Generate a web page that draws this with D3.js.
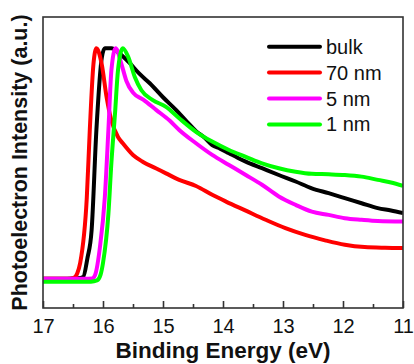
<!DOCTYPE html>
<html>
<head>
<meta charset="utf-8">
<script src="https://d3js.org/d3.v7.min.js"></script>
<style>
	body{margin:0;background:#fff;}
	text{font-family:Arial,"Liberation Sans",sans-serif;fill:#111;}
</style>
</head>
<body>
<div class="canvas"></div>
<script>

// spectra, energy in eV (descending), intensity normalised to peak
var bulkE = [17,16.6,16.42,16.33,16.26,16.19,16.11,16.02,15.97,15.86,15.72,15.55,15.39,15.22,15.0,14.78,14.6,14.45,14.3,14.18,14.05,13.9,13.75,13.62,13.35,13.07,12.79,12.52,12.24,11.97,11.69,11.42,11.2,11.0];
var bulkV = [0.012,0.012,0.014,0.02,0.1,0.22,0.65,0.96,1.0,1.0,0.977,0.935,0.89,0.85,0.79,0.735,0.685,0.645,0.615,0.585,0.57,0.55,0.53,0.514,0.486,0.457,0.429,0.40,0.379,0.358,0.336,0.315,0.305,0.294];

var nm70E = [17,16.6,16.49,16.43,16.38,16.27,16.22,16.16,16.11,16.02,15.94,15.86,15.75,15.67,15.5,15.34,15.12,14.95,14.73,14.45,14.18,13.95,13.62,13.29,12.96,12.63,12.3,11.97,11.64,11.3,11.0];
var nm70V = [0.012,0.012,0.016,0.035,0.08,0.36,0.65,0.93,1.0,0.93,0.79,0.69,0.62,0.593,0.543,0.514,0.486,0.464,0.436,0.41,0.372,0.343,0.304,0.265,0.229,0.20,0.177,0.158,0.148,0.145,0.144];

var nm5E = [17,16.3,16.18,16.13,16.05,15.97,15.91,15.86,15.79,15.69,15.61,15.5,15.33,15.11,14.89,14.73,14.45,14.18,13.9,13.62,13.35,13.07,12.79,12.52,12.24,11.97,11.69,11.42,11.0];
var nm5V = [0.012,0.012,0.014,0.03,0.15,0.36,0.65,0.906,1.0,0.93,0.86,0.81,0.78,0.735,0.69,0.65,0.593,0.543,0.50,0.457,0.415,0.365,0.329,0.30,0.286,0.272,0.265,0.26,0.258];

var nm1E = [17,16.2,16.1,16.04,16.0,15.91,15.86,15.80,15.75,15.67,15.58,15.47,15.36,15.17,14.95,14.73,14.45,14.18,13.9,13.62,13.35,13.07,12.79,12.52,12.24,11.97,11.69,11.42,11.2,11.0];
var nm1V = [0,0,0.005,0.03,0.08,0.29,0.51,0.72,0.906,1.0,0.963,0.877,0.82,0.778,0.749,0.70,0.642,0.60,0.564,0.535,0.507,0.486,0.471,0.462,0.46,0.457,0.45,0.436,0.425,0.41];

var seriesNames = ['bulk','70 nm','5 nm','1 nm'];
var seriesColors = ['#000000','#ff0000','#ff00ff','#00ff00'];
var majorTicks = [17,16,15,14,13,12,11];
var minorTicks = [16.5,15.5,14.5,13.5,12.5,11.5];

var series = [
	{name:seriesNames[0], color:seriesColors[0], e:bulkE, v:bulkV},
	{name:seriesNames[1], color:seriesColors[1], e:nm70E, v:nm70V},
	{name:seriesNames[2], color:seriesColors[2], e:nm5E, v:nm5V},
	{name:seriesNames[3], color:seriesColors[3], e:nm1E, v:nm1V}
];

var W = 414, H = 364;
var box = {l:43, r:403, t:17, b:308};

var svg = d3.select('.canvas')
	.append('svg')
	.attr('width',W)
	.attr('height',H);

var scaleX = d3.scaleLinear().domain([17,11]).range([box.l,box.r]);
var scaleY = d3.scaleLinear().domain([-0.113,1.134]).range([box.b,box.t]);

var line = d3.line()
	.x(function(d){ return scaleX(d[0]) })
	.y(function(d){ return scaleY(d[1]) })
	.curve(d3.curveMonotoneX);

svg.append('clipPath').attr('id','clip')
	.append('rect')
	.attr('x',box.l).attr('y',box.t)
	.attr('width',box.r-box.l).attr('height',box.b-box.t);

var plot = svg.append('g').attr('clip-path','url(#clip)');

plot.selectAll('.spec')
	.data(series)
	.enter()
	.append('path')
	.attr('class','spec')
	.attr('fill','none')
	.attr('stroke',function(d){ return d.color })
	.attr('stroke-width',4)
	.attr('stroke-linejoin','round')
	.attr('d',function(d){
		return line(d.e.map(function(e,i){ return [e,d.v[i]] }))
	});

// frame
svg.append('rect')
	.attr('x',box.l).attr('y',box.t)
	.attr('width',box.r-box.l).attr('height',box.b-box.t)
	.attr('fill','none')
	.attr('stroke','#333')
	.attr('stroke-width',1.6);

// x axis, ticks pointing in
var xAxis = svg.append('g')
	.attr('transform','translate(0,'+box.b+')')
	.call(d3.axisBottom(scaleX).tickValues(majorTicks).tickSizeInner(-7).tickSizeOuter(0).tickPadding(11).tickFormat(d3.format('d')));

var xMinor = svg.append('g')
	.attr('transform','translate(0,'+box.b+')')
	.call(d3.axisBottom(scaleX).tickValues(minorTicks).tickSizeInner(-4).tickSizeOuter(0).tickFormat(''));

svg.selectAll('.domain').remove();
svg.selectAll('.tick line').attr('stroke','#333').attr('stroke-width',1.6);
xAxis.selectAll('.tick text')
	.attr('font-size',20)
	.attr('font-family','Arial, "Liberation Sans", sans-serif')
	.attr('fill','#111');

// axis titles
svg.append('text')
	.attr('x',(box.l+box.r)/2)
	.attr('y',358)
	.attr('text-anchor','middle')
	.attr('font-size',22.5)
	.attr('font-weight','bold')
	.text('Binding Energy (eV)');

svg.append('text')
	.attr('transform','translate(27,'+((box.t+box.b)/2)+') rotate(-90)')
	.attr('text-anchor','middle')
	.attr('font-size',21.5)
	.attr('font-weight','bold')
	.text('Photoelectron Intensity (a.u.)');

// legend
var legend = svg.selectAll('.leg')
	.data(series)
	.enter()
	.append('g')
	.attr('class','leg')
	.attr('transform',function(d,i){ return 'translate(269,'+(46.7+i*25.9)+')' });

legend.append('line')
	.attr('x1',0).attr('x2',51)
	.attr('stroke',function(d){ return d.color })
	.attr('stroke-width',4)
	.attr('stroke-linecap','round');

legend.append('text')
	.attr('x',57)
	.attr('y',7)
	.attr('font-size',20)
	.text(function(d){ return d.name });

</script>
</body>
</html>
